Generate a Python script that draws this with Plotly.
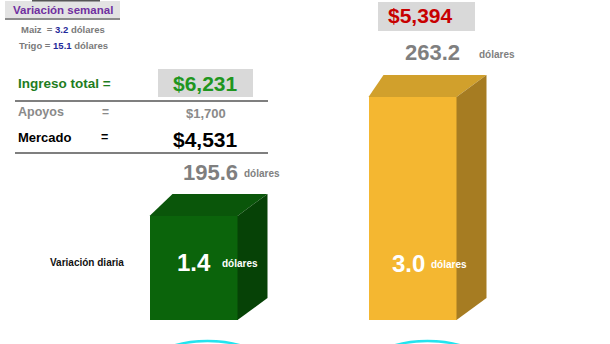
import plotly.graph_objects as go

# ---- data ----
bar_names = ["Semana anterior", "Semana actual"]
daily_var = [1.4, 3.0]            # variación diaria (dólares)
price = ["195.6", "263.2"]         # precio (dólares)
income = ["$6,231", "$5,394"]      # ingreso total
weekly_crops = ["Maiz", "Trigo"]
weekly_var = ["3.2", "15.1"]
support = "$1,700"
market = "$4,531"

# ---- style / layout constants ----
W, H = 610, 344
BASE_PX = 320                 # pixel row of value 0
K = 223 / 3.0                 # pixels per unit
FONT = "Arial, Liberation Sans, sans-serif"
bar_cx = [193.5, 412.5]
bar_w = 88
depth_l = [23, 15]
depth_r = 30
depth_y = 22
front_col = ["#0b640b", "#f4b731"]
top_col = ["#0a560a", "#d1a02c"]
side_col = ["#064206", "#a67c22"]

y_lo = -(H - BASE_PX) / K
y_hi = BASE_PX / K

def py(p):  # pixel row -> paper y
    return 1 - p / H

fig = go.Figure()

fig.add_trace(go.Bar(x=bar_cx, y=daily_var, width=bar_w, base=0,
                     marker=dict(color=front_col, line=dict(width=0)),
                     hoverinfo="skip", showlegend=False))

dyv = depth_y / K
for i, v in enumerate(daily_var):
    xl = bar_cx[i] - bar_w / 2
    xr = bar_cx[i] + bar_w / 2
    # top face
    fig.add_trace(go.Scatter(
        x=[xl, xr, xr + depth_r, xl + depth_l[i], xl],
        y=[v, v, v + dyv, v + dyv, v],
        fill="toself", fillcolor=top_col[i], mode="lines",
        line=dict(width=0, color=top_col[i]), hoverinfo="skip", showlegend=False))
    # side face
    fig.add_trace(go.Scatter(
        x=[xr, xr, xr + depth_r, xr + depth_r, xr],
        y=[0, v, v + dyv, dyv, 0],
        fill="toself", fillcolor=side_col[i], mode="lines",
        line=dict(width=0, color=side_col[i]), hoverinfo="skip", showlegend=False))

ann = []

def A(x, y, text, size, color="#000", bold=True, xanchor="center"):
    t = f"<b>{text}</b>" if bold else text
    ann.append(dict(x=x, y=py(y), xref="x", yref="paper", text=t, showarrow=False,
                    xanchor=xanchor, yanchor="middle",
                    font=dict(family=FONT, size=size, color=color)))

# weekly variation block
A(63, 10, "Variación semanal", 11.5, "#7030a0")
A(63, 29, f"{weekly_crops[0]}  = <span style='color:#1f2a9a'>{weekly_var[0]}</span> dólares", 9.5, "#7a7a7a")
A(63, 45, f"{weekly_crops[1]} = <span style='color:#1f2a9a'>{weekly_var[1]}</span> dólares", 9.5, "#7a7a7a")

# income block
A(16, 83, "Ingreso total =", 13.5, "#1e7d1e", xanchor="left")
A(205, 83, income[0], 21, "#1f961f")
A(16, 112, "Apoyos", 12.5, "#8a8a8a", xanchor="left")
A(105, 112, "=", 12, "#8a8a8a")
A(206, 114, support, 13, "#8a8a8a")
A(16, 137, "Mercado", 13, "#000", xanchor="left")
A(104, 137, "=", 12.5, "#000")
A(205, 139, market, 21, "#000")

# prices
A(210, 172, price[0], 22, "#7f7f7f")
A(262, 173, "dólares", 10, "#7f7f7f")
A(420, 16, income[1], 21, "#c80000")
A(432, 52, price[1], 22, "#7f7f7f")
A(497, 54, "dólares", 10, "#7f7f7f")

# bar labels
A(194, 262, f"{daily_var[0]:.1f}", 24, "#ffffff")
A(240, 263, "dólares", 10, "#ffffff")
A(408, 263, f"{daily_var[1]:.1f}", 24, "#ffffff")
A(449, 264, "dólares", 10, "#ffffff")
A(87, 262, "Variación diaria", 10, "#111")

shapes = [
    dict(type="rect", xref="x", yref="paper", x0=5, x1=120, y0=py(18), y1=py(1),
         fillcolor="#e3e3e3", line=dict(width=0), layer="below"),
    dict(type="line", xref="x", yref="paper", x0=32, x1=100, y0=py(0.5), y1=py(0.5),
         line=dict(color="#555", width=2)),
    dict(type="line", xref="x", yref="paper", x0=5, x1=120, y0=py(19), y1=py(19),
         line=dict(color="#666", width=1.5)),
    dict(type="rect", xref="x", yref="paper", x0=158, x1=253, y0=py(97), y1=py(69),
         fillcolor="#d9d9d9", line=dict(width=0), layer="below"),
    dict(type="line", xref="x", yref="paper", x0=15, x1=268, y0=py(101), y1=py(101),
         line=dict(color="#555", width=1.5)),
    dict(type="line", xref="x", yref="paper", x0=15, x1=268, y0=py(153), y1=py(153),
         line=dict(color="#555", width=1.5)),
    dict(type="rect", xref="x", yref="paper", x0=378, x1=475, y0=py(31), y1=py(2),
         fillcolor="#d9d9d9", line=dict(width=0), layer="below"),
    dict(type="circle", xref="x", yref="paper", x0=150, x1=265, y0=py(390), y1=py(341),
         line=dict(color="#22e4ef", width=2.5)),
    dict(type="circle", xref="x", yref="paper", x0=370, x1=485, y0=py(390), y1=py(341),
         line=dict(color="#22e4ef", width=2.5)),
]

fig.update_layout(
    width=W, height=H, margin=dict(l=0, r=0, t=0, b=0),
    paper_bgcolor="white", plot_bgcolor="white",
    xaxis=dict(range=[0, W], visible=False, fixedrange=True),
    yaxis=dict(range=[y_lo, y_hi], visible=False, fixedrange=True),
    annotations=ann, shapes=shapes, showlegend=False, bargap=0,
)

fig.write_html("out.html")
